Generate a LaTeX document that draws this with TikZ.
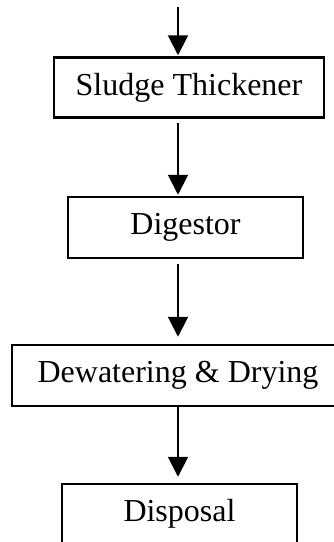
\documentclass[tikz,border=0pt]{standalone}
\usepackage{fontspec}
\setmainfont{Liberation Serif}
\usetikzlibrary{arrows.meta}

\begin{document}
\begin{tikzpicture}[
  x=1pt, y=1pt,
  box/.style={draw, line width=2.5pt, inner sep=0pt, minimum height=60pt, font=\fontsize{32}{38}\selectfont},
  arrow/.style={-{Triangle[length=20pt,width=20pt]}, line width=2pt}
]
\clip (0,0) rectangle (334,-542);
\coordinate (in) at (178,-7);
\node[box, minimum width=270pt] (thickener) at (189,-87.5) {Sludge Thickener};
\node[box, minimum width=235pt, minimum height=61pt] (digestor) at (185.5,-227.5) {Digestor};
\node[box, minimum width=332pt, minimum height=61pt] (dewatering) at (178,-375.5) {Dewatering \& Drying};
\node[box, minimum width=235pt] (disposal) at (179.5,-514) {Disposal};

\draw[arrow, shorten >=1pt] (in) -- (thickener.north -| in);
\draw[arrow, shorten <=4pt, shorten >=1pt] (thickener.south -| in) -- (digestor.north -| in);
\draw[arrow, shorten <=5pt, shorten >=7pt] (digestor.south -| in) -- (dewatering.north -| in);
\draw[arrow, shorten >=6pt] (dewatering.south -| in) -- (disposal.north -| in);
\end{tikzpicture}
\end{document}
